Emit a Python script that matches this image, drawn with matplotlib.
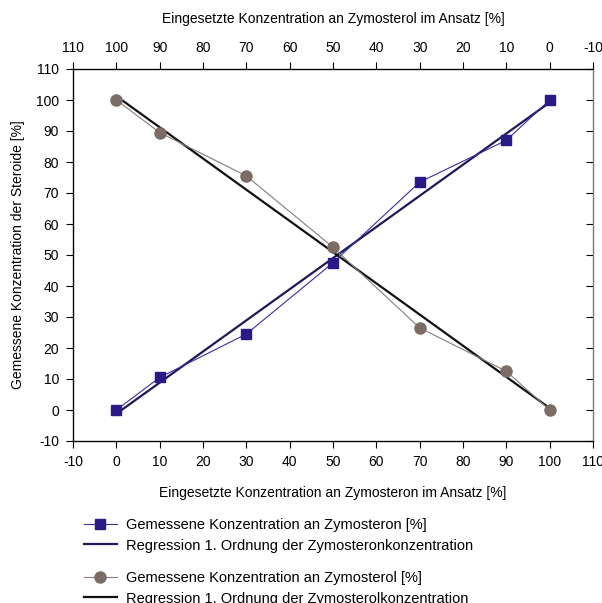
import numpy as np
import matplotlib
matplotlib.use("Agg")
import matplotlib.pyplot as plt
from matplotlib.lines import Line2D

plt.rcParams['font.family'] = ['Liberation Sans', 'DejaVu Sans']
plt.rcParams['font.size'] = 10

# Data
x_ansatz = [0, 10, 30, 50, 70, 90, 100]
zymosteron = [0, 10.5, 24.5, 47.5, 73.5, 87, 100]
zymosterol = [100, 89.5, 75.5, 52.5, 26.5, 12.5, 0]

bottom_ticks = [-10, 0, 10, 20, 30, 40, 50, 60, 70, 80, 90, 100, 110]
bottom_labels = ["-10", "0", "10", "20", "30", "40", "50", "60", "70", "80", "90", "100", "110"]
top_labels = ["110", "100", "90", "80", "70", "60", "50", "40", "30", "20", "10", "0", "-10"]
y_ticks = [-10, 0, 10, 20, 30, 40, 50, 60, 70, 80, 90, 100, 110]
y_labels = ["-10", "0", "10", "20", "30", "40", "50", "60", "70", "80", "90", "100", "110"]

c_sq = "#2a1a88"
c_sq_line = "#3a2ea0"
c_reg1 = "#1e1858"
c_ci = "#7c6c68"
c_ci_line = "#8a7c78"
c_reg2 = "#111111"

fig = plt.figure(figsize=(6.02, 6.03), dpi=100)
ax = fig.add_axes([73/602, 162/603, 520/602, 372/603])

xa = np.array(x_ansatz, dtype=float)
p1 = np.polyfit(xa, zymosteron, 1)
p2 = np.polyfit(xa, zymosterol, 1)
xr = np.array([0, 100.0])

ax.plot(xr, np.polyval(p1, xr), color=c_reg1, lw=1.6, zorder=2)
ax.plot(xr, np.polyval(p2, xr), color=c_reg2, lw=1.6, zorder=2)
ax.plot(xa, zymosteron, color=c_sq_line, lw=0.8, marker='s', ms=7, mfc=c_sq, mec=c_sq, zorder=3)
ax.plot(xa, zymosterol, color=c_ci_line, lw=0.8, marker='o', ms=8, mfc=c_ci, mec=c_ci, zorder=3)

ax.set_xlim(-10, 110)
ax.set_ylim(-10, 110)
ax.set_xticks(bottom_ticks, bottom_labels)
ax.set_yticks(y_ticks, y_labels)
ax.tick_params(axis='both', direction='out', length=5, width=0.8, color='black', labelsize=10, pad=5)
for s in ['left', 'bottom', 'top']:
    ax.spines[s].set_linewidth(0.9)
ax.spines['right'].set_color('#777777')
ax.spines['right'].set_linewidth(0.9)

ax.set_xlabel("Eingesetzte Konzentration an Zymosteron im Ansatz [%]", fontsize=10, labelpad=12)
ax.set_ylabel("Gemessene Konzentration der Steroide [%]", fontsize=10, labelpad=8)

# right ticks inward
ax.tick_params(axis='y', which='both', left=True, right=True)
for t in ax.yaxis.get_major_ticks():
    t.tick2line.set_marker(matplotlib.lines.TICKLEFT)
    t.tick2line.set_markersize(5)
    t.tick2line.set_color('#777777')
    t.tick1line.set_marker(matplotlib.lines.TICKLEFT)

ax2 = ax.twiny()
ax2.set_xlim(ax.get_xlim())
ax2.set_xticks(bottom_ticks, top_labels)
ax2.tick_params(axis='x', direction='out', length=5, width=0.8, labelsize=10, pad=5)
ax2.set_xlabel("Eingesetzte Konzentration an Zymosterol im Ansatz [%]", fontsize=10, labelpad=13)
ax2.spines['right'].set_color('#777777')

h1 = [Line2D([], [], color=c_sq_line, lw=0.8, marker='s', ms=7, mfc=c_sq, mec=c_sq),
      Line2D([], [], color=c_reg1, lw=1.6)]
l1 = ["Gemessene Konzentration an Zymosteron [%]",
      "Regression 1. Ordnung der Zymosteronkonzentration"]
h2 = [Line2D([], [], color=c_ci_line, lw=0.8, marker='o', ms=8, mfc=c_ci, mec=c_ci),
      Line2D([], [], color=c_reg2, lw=1.6)]
l2 = ["Gemessene Konzentration an Zymosterol [%]",
      "Regression 1. Ordnung der Zymosterolkonzentration"]

kw = dict(frameon=False, fontsize=10.5, handlelength=2.25, handletextpad=0.6,
          labelspacing=0.45, borderpad=0, borderaxespad=0, loc='upper left')
fig.legend(h1, l1, bbox_to_anchor=(84/602, 1 - 518/603), **kw)
fig.legend(h2, l2, bbox_to_anchor=(84/602, 1 - 571/603), **kw)

fig.savefig("out.png", dpi=100)
